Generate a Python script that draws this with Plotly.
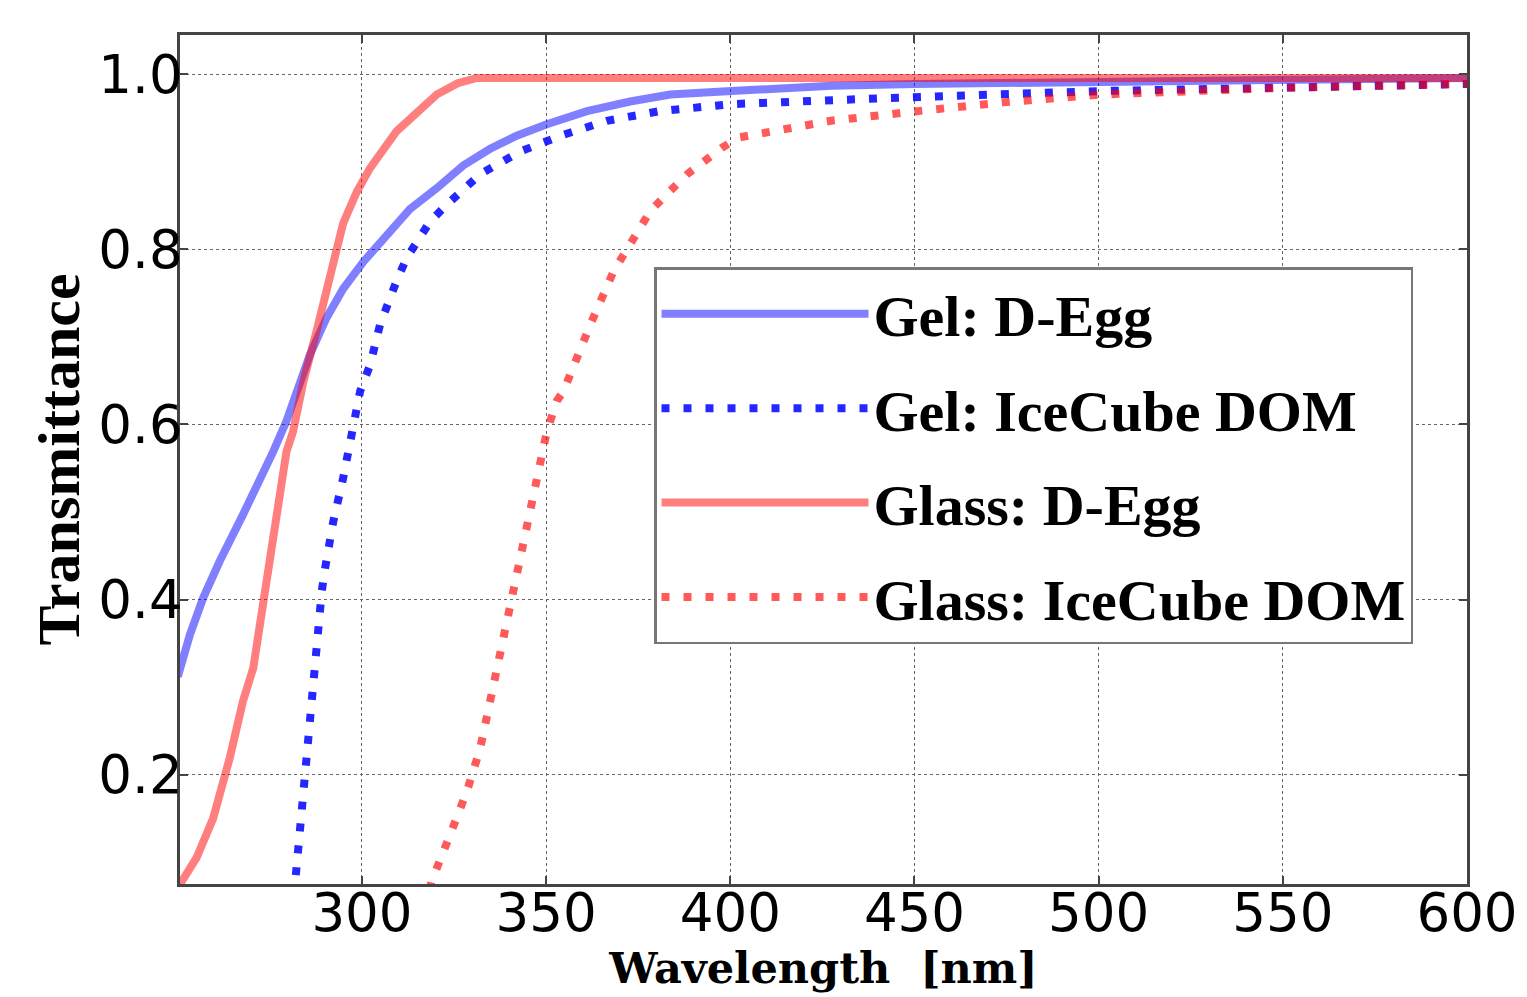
import plotly.graph_objects as go

# ---- data ----
gel_degg_x = [250, 253.3, 256.9, 261.4, 267.7, 272.3, 275.9, 279.5, 282.5, 285.9, 290.4, 294.9,
              300.4, 306.7, 313, 320.3, 327.5, 334.8, 342, 350.2, 361.1, 372.8, 383.7, 400.3,
              427.5, 450, 500.6, 550, 600]
gel_degg_y = [0.312, 0.360, 0.402, 0.444, 0.497, 0.535, 0.569, 0.604, 0.638, 0.680, 0.722, 0.755,
              0.786, 0.817, 0.846, 0.870, 0.896, 0.915, 0.930, 0.943, 0.958, 0.969, 0.977, 0.981,
              0.987, 0.989, 0.992, 0.994, 0.996]

gel_dom_x = [281.5, 281.8, 283.2, 284.5, 285.9, 286.8, 287.7, 289.1, 290, 292.2, 294.9, 298.6,
             299.5, 302.2, 304.9, 309.4, 312.1, 318.5, 323, 332.1, 343, 354.7, 366.5, 380.8,
             400.3, 443, 500.6, 552, 600]
gel_dom_y = [0.060, 0.074, 0.150, 0.204, 0.257, 0.307, 0.360, 0.410, 0.436, 0.489, 0.539, 0.615,
             0.638, 0.668, 0.714, 0.764, 0.790, 0.832, 0.851, 0.886, 0.912, 0.931, 0.947, 0.958,
             0.966, 0.973, 0.981, 0.985, 0.989]

glass_degg_x = [249.5, 250.5, 255.1, 259.6, 264.1, 267.7, 270.5, 273.2, 276.8, 279.5, 281.3,
                284.1, 287.7, 290.4, 292.2, 294.9, 298.6, 302.2, 309.4, 320.3, 326, 331.2, 400,
                500, 600]
glass_degg_y = [0.066, 0.074, 0.105, 0.150, 0.219, 0.284, 0.322, 0.398, 0.501, 0.569, 0.592,
                0.649, 0.707, 0.752, 0.788, 0.830, 0.866, 0.893, 0.935, 0.977, 0.990, 0.996, 0.996,
                0.996, 0.996]

glass_dom_x = [318.3, 318.9, 323.9, 328.5, 332.1, 334.8, 337.5, 340.2, 342.5, 344.8, 347.5, 350.2,
               352.9, 354.7, 362, 368.3, 372.8, 378.3, 383.7, 388.3, 397.7, 402.4, 411.7, 427.3,
               450.7, 474, 500.6, 520.9, 552, 600]
glass_dom_y = [0.068, 0.078, 0.131, 0.181, 0.230, 0.284, 0.337, 0.383, 0.436, 0.486, 0.539, 0.592,
               0.627, 0.638, 0.714, 0.775, 0.806, 0.844, 0.867, 0.886, 0.916, 0.928, 0.935, 0.947,
               0.958, 0.968, 0.977, 0.981, 0.985, 0.989]

names = ["Gel: D-Egg", "Gel: IceCube DOM", "Glass: D-Egg", "Glass: IceCube DOM"]
x_ticks = [300, 350, 400, 450, 500, 550, 600]
y_ticks = [0.2, 0.4, 0.6, 0.8, 1.0]

LW = 8
DOT = "8px,14px"

fig = go.Figure()
fig.add_trace(go.Scatter(x=gel_degg_x, y=gel_degg_y, mode="lines", name=names[0],
                         line=dict(color="rgba(0,0,255,0.5)", width=LW)))
fig.add_trace(go.Scatter(x=gel_dom_x, y=gel_dom_y, mode="lines", name=names[1],
                         line=dict(color="rgba(0,0,255,0.85)", width=LW, dash=DOT)))
fig.add_trace(go.Scatter(x=glass_degg_x, y=glass_degg_y, mode="lines", name=names[2],
                         line=dict(color="rgba(255,0,0,0.5)", width=LW)))
fig.add_trace(go.Scatter(x=glass_dom_x, y=glass_dom_y, mode="lines", name=names[3],
                         line=dict(color="rgba(255,0,0,0.65)", width=LW, dash=DOT)))

for i in range(4):
    fig.data[i].legendgroup = "g%d" % i

axis_common = dict(
    showline=True, mirror="ticks", linecolor="#444", linewidth=2.5,
    ticks="inside", ticklen=8, tickwidth=1.5, tickcolor="#444",
    showgrid=True, gridcolor="#666", griddash="dot", gridwidth=1.2,
    zeroline=False, automargin=False,
    tickfont=dict(family="DejaVu Sans", size=53, color="black"),
)

fig.update_layout(
    width=1527, height=997,
    margin=dict(l=180, r=60, t=35, b=113),
    paper_bgcolor="white", plot_bgcolor="white",
    xaxis=dict(range=[250.6, 600], tickvals=x_ticks, ticktext=[str(v) for v in x_ticks],
               ticklabelstandoff=-19,
               title=dict(text="Wavelength  [nm]", standoff=8,
                          font=dict(family="DejaVu Serif", size=43, color="black", weight="bold")),
               **axis_common),
    yaxis=dict(range=[0.075, 1.045], tickvals=y_ticks, ticktext=["%.1f" % v for v in y_ticks],
               ticklabelstandoff=-16,
               title=dict(text="Transmittance", standoff=0,
                          font=dict(family="Liberation Serif", size=60, color="black", weight="bold")),
               **axis_common),
    legend=dict(x=0.3683, y=0.7267, xanchor="left", yanchor="top",
                bgcolor="white", bordercolor="#777", borderwidth=2.5,
                font=dict(family="Liberation Serif", size=58, color="black", weight="bold"),
                traceorder="grouped", tracegroupgap=16, itemwidth=207),
    showlegend=True,
)

fig.write_html("out.html")
